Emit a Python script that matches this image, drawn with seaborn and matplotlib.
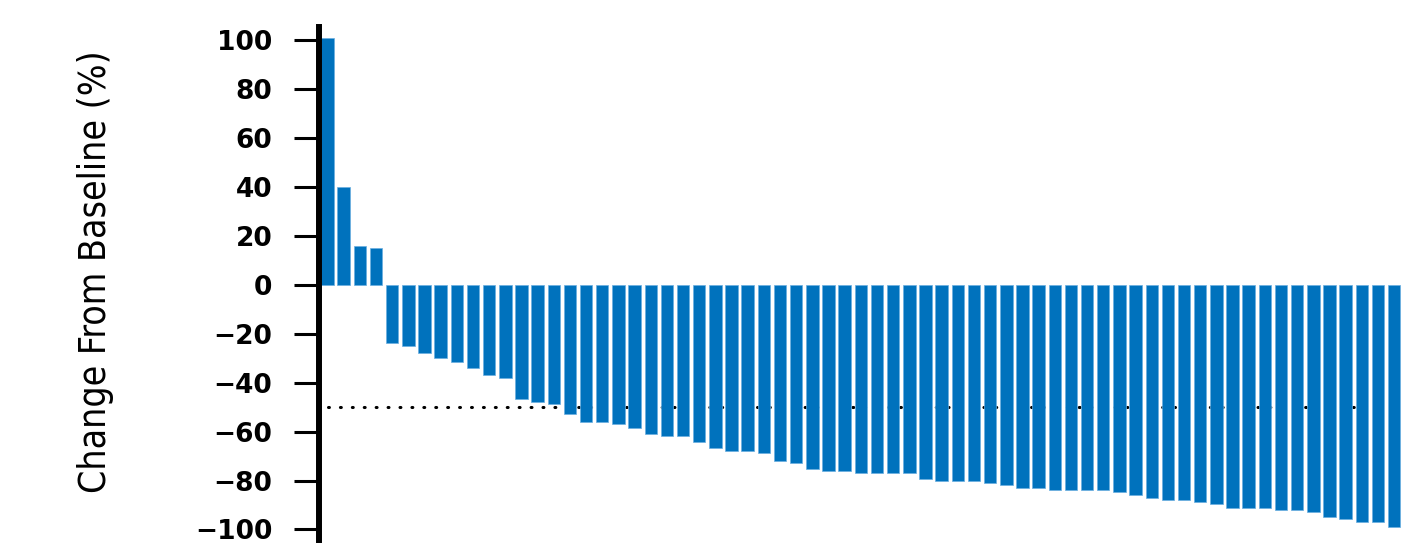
import matplotlib
matplotlib.use("Agg")
import matplotlib.pyplot as plt
import seaborn as sns

# best % change from baseline, one bar per patient (sorted)
patients = list(range(1, 68))
change = [101, 40, 16, 15, -23.6, -25, -28, -29.9, -31.6, -33.8,
          -37, -37.9, -46.6, -47.9, -48.8, -52.9, -56, -56, -56.9, -58.6,
          -60.8, -61.8, -61.8, -64.1, -66.7, -68, -68, -68.9, -72, -72.9,
          -75.1, -75.9, -75.9, -76.9, -76.9, -76.9, -76.9, -79.2, -80, -80,
          -80, -80.8, -81.8, -83, -83, -83.8, -83.8, -83.8, -83.8, -84.8,
          -85.8, -87.1, -87.9, -87.9, -88.9, -89.7, -91.1, -91.1, -91.1, -91.9,
          -91.9, -92.8, -95, -95.8, -96.8, -96.8, -99]
yticks = [100, 80, 60, 40, 20, 0, -20, -40, -60, -80, -100]
threshold = -50

sns.set_theme(style="white")
plt.rcParams['font.family'] = ['DejaVu Sans']

fig = plt.figure(figsize=(14.21, 5.51), dpi=100)
ax = fig.add_axes([0.2248, 0.02, 0.762, 0.931])

# -50% response line, sits behind the bars
ax.hlines(threshold, 0, 64.6, colors="black", linewidth=2.2,
          linestyles=(0, (0.3, 3.6)), zorder=1, capstyle="round")

sns.barplot(x=patients, y=change, color="#0072BD", width=0.77,
            edgecolor="#6aafe0", linewidth=0.5, saturation=1, ax=ax, zorder=2)

ax.set_xlim(-0.5, 66.5)
ax.set_ylim(-104.3, 105.5)
ax.set_yticks(yticks)
ax.set_xticks([])
ax.set_xlabel("")

for s in ["top", "right", "bottom"]:
    ax.spines[s].set_visible(False)
ax.spines["left"].set_linewidth(4.3)
ax.spines["left"].set_color("black")

ax.tick_params(axis="y", direction="out", length=18, width=2.2,
               color="black", pad=16, labelsize=19, labelcolor="black", left=True)
for t in ax.get_yticklabels():
    t.set_fontweight("bold")

lab = ax.set_ylabel("Change From Baseline (%)", fontstretch="condensed",
                    fontsize=30, color="black")
ax.yaxis.label.set_va("center")
ax.yaxis.set_label_coords(-0.2065, 0.523)

# fit label length to ~443 px
fig.canvas.draw()
h = lab.get_window_extent().height
lab.set_fontsize(30 * 443 / h)

fig.savefig("out.png", dpi=100, facecolor="white")
